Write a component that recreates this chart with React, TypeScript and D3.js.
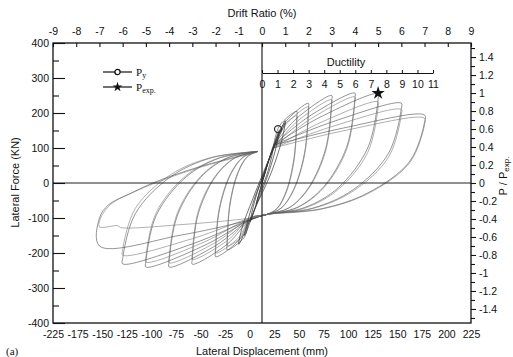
import React, { useEffect, useRef } from 'react';
import * as d3 from 'd3';

const W = 513;
const H = 357;

const driftTicks = [-9, -8, -7, -6, -5, -4, -3, -2, -1, 0, 1, 2, 3, 4, 5, 6, 7, 8, 9];
const forceTicks = [-400, -300, -200, -100, 0, 100, 200, 300, 400];
const forceMinor = [-350, -250, -150, -50, 50, 150, 250, 350];
const ratioTicks = [-1.4, -1.2, -1, -0.8, -0.6, -0.4, -0.2, 0, 0.2, 0.4, 0.6, 0.8, 1, 1.2, 1.4];
const ratioMinor = [-1.5, -1.3, -1.1, -0.9, -0.7, -0.5, -0.3, -0.1, 0.1, 0.3, 0.5, 0.7, 0.9, 1.1, 1.3, 1.5];
const ductilityTicks = [0, 1, 2, 3, 4, 5, 6, 7, 8, 9, 10, 11];
const dispLabels = ['-225', '-175', '-150', '-125', '-100', '-75', '-50', '-25', '0', '25', '50', '75', '100', '125', '150', '175', '200', '225'];

// [drift %, lateral force kN]
const yieldPoint = [0.69, 154];
const peakPoint = [5.0, 257];

// elastic cycles
const loop025 = [[0, 0], [0.25, 58], [0.12, 26], [-0.05, -12], [-0.25, -60], [-0.12, -28], [0.05, 12], [0.25, 56]];
const loop050 = [[0.05, 12], [0.5, 108], [0.42, 76], [0.2, 22], [-0.1, -30], [-0.5, -110], [-0.42, -80], [-0.2, -26], [0.1, 30], [0.5, 104]];
const loop075 = [[0.1, 28], [0.75, 150], [0.62, 106], [0.3, 32], [-0.2, -56], [-0.75, -150], [-0.62, -110], [-0.3, -40], [0.2, 46], [0.75, 146]];
const loop100 = [[0.2, 50], [1.0, 178], [0.85, 122], [0.4, 30], [-0.3, -72], [-1.0, -175], [-0.85, -126], [-0.4, -46], [0.25, 60], [1.0, 172]];

// inelastic cycles, two per drift level
const loop15a = [[0.5, 108], [0.75, 163], [1.5, 205], [1.5, 190], [1.38, 72], [1.04, -24], [0.64, -73], [0.2, -90], [-0.5, -105], [-0.75, -154], [-1.5, -191], [-1.5, -176], [-1.38, -63], [-1.04, 28], [-0.64, 74], [-0.2, 90]];
const loop15b = [[0.5, 100], [0.75, 152], [1.5, 192], [1.5, 177], [1.38, 64], [1.04, -28], [0.64, -74], [0.2, -90], [-0.5, -100], [-0.75, -146], [-1.5, -180], [-1.5, -165], [-1.38, -57], [-1.04, 30], [-0.64, 75], [-0.2, 90]];
const loop2a = [[0.5, 108], [1.0, 174], [2.0, 228], [2.0, 213], [1.83, 85], [1.36, -19], [0.82, -72], [0.2, -90], [-0.5, -105], [-1.0, -164], [-2.0, -211], [-2.0, -196], [-1.83, -75], [-1.36, 23], [-0.82, 73], [-0.2, 90]];
const loop2b = [[0.5, 100], [1.0, 165], [2.0, 218], [2.0, 203], [1.83, 79], [1.36, -21], [0.82, -72], [0.2, -90], [-0.5, -100], [-1.0, -156], [-2.0, -200], [-2.0, -185], [-1.83, -69], [-1.36, 26], [-0.82, 74], [-0.2, 90]];
const loop3a = [[0.5, 108], [1.5, 185], [3.0, 250], [3.0, 235], [2.74, 98], [2.0, -14], [1.16, -71], [0.2, -90], [-0.5, -105], [-1.5, -175], [-3.0, -232], [-3.0, -217], [-2.74, -87], [-2.0, 18], [-1.16, 72], [-0.2, 90]];
const loop3b = [[0.5, 100], [1.5, 175], [3.0, 238], [3.0, 223], [2.74, 91], [2.0, -17], [1.16, -71], [0.2, -90], [-0.5, -100], [-1.5, -165], [-3.0, -218], [-3.0, -203], [-2.74, -79], [-2.0, 21], [-1.16, 72], [-0.2, 90]];
const loop4a = [[0.5, 108], [2.0, 189], [4.0, 257], [4.0, 242], [3.64, 102], [2.64, -12], [1.5, -70], [0.2, -90], [-0.5, -105], [-2.0, -179], [-4.0, -240], [-4.0, -225], [-3.64, -92], [-2.64, 16], [-1.5, 71], [-0.2, 90]];
const loop4b = [[0.5, 100], [2.0, 179], [4.0, 246], [4.0, 231], [3.64, 95], [2.64, -15], [1.5, -71], [0.2, -90], [-0.5, -100], [-2.0, -170], [-4.0, -228], [-4.0, -213], [-3.64, -85], [-2.64, 19], [-1.5, 72], [-0.2, 90]];
const loop5a = [[0.5, 108], [2.5, 188], [5.0, 255], [5.0, 240], [4.55, 100], [3.29, -13], [1.84, -70], [0.2, -90], [-0.5, -105], [-2.5, -179], [-5.0, -240], [-5.0, -225], [-4.55, -92], [-3.29, 16], [-1.84, 71], [-0.2, 90]];
const loop5b = [[0.5, 100], [2.5, 172], [5.0, 232], [5.0, 217], [4.55, 87], [3.29, -18], [1.84, -72], [0.2, -90], [-0.5, -100], [-2.5, -169], [-5.0, -226], [-5.0, -211], [-4.55, -84], [-3.29, 20], [-1.84, 72], [-0.2, 90]];
const loop6a = [[0.5, 108], [3.0, 174], [6.0, 228], [6.0, 213], [5.45, 85], [3.93, -19], [2.18, -72], [0.2, -90], [-0.5, -105], [-3.0, -174], [-6.0, -231], [-6.0, -216], [-5.45, -87], [-3.93, 18], [-2.18, 72], [-0.2, 90]];
const loop6b = [[0.5, 100], [3.0, 161], [6.0, 210], [6.0, 195], [5.45, 74], [3.93, -23], [2.18, -73], [0.2, -90], [-0.5, -100], [-3.0, -159], [-6.0, -206], [-6.0, -191], [-5.45, -72], [-3.93, 24], [-2.18, 73], [-0.2, 90]];
const loop7a = [[0.5, 108], [3.5, 157], [7.0, 194], [7.0, 174], [6.36, 62], [4.57, -28], [2.53, -74], [0.2, -90], [-0.5, -105], [-3.5, -149], [-7.0, -180], [-7.0, -100], [-6.6, -62], [-5.6, -28], [-4.7, 0], [-3.0, 40], [-1.4, 70], [-0.2, 90]];
const loop7b = [[0.5, 100], [3.5, 149], [7.0, 185], [7.0, 167], [6.36, 58], [4.57, -30], [2.53, -75], [0.2, -90], [-0.5, -100], [-3.5, -119], [-6.1, -127], [-6.2, -122], [-7.0, -125], [-6.95, -100], [-6.5, -60], [-5.5, -25], [-4.6, 0], [-3.0, 38], [-1.4, 68], [-0.2, 88]];

const elasticLoops = [loop025, loop050, loop075, loop100];
const cycleLoops = [
  loop15a, loop15b, loop2a, loop2b, loop3a, loop3b,
  loop4a, loop4b, loop5a, loop5b, loop6a, loop6b, loop7a, loop7b,
];

const SANS = 'Liberation Sans, Arial, Helvetica, sans-serif';
const SERIF = 'Liberation Serif, Times New Roman, serif';

const App = () => {
  const svgRef = useRef(null);

  useEffect(() => {
    if (!svgRef.current) return;
    const svg = d3.select(svgRef.current);
    svg.selectAll('*').remove();

    const left = 53, right = 471, top = 43, bottom = 323;

    const x = d3.scaleLinear().domain([-9, 9]).range([left, right]);
    const y = d3.scaleLinear().domain([-400, 400]).range([bottom, top]);
    const r = d3.scaleLinear().domain([-1.556, 1.556]).range([bottom, top]);
    const duct = d3.scaleLinear().domain([0, 11]).range([x(0), x(0) + 171]);
    const disp = d3.scalePoint().domain(dispLabels).range([left, right]);

    // hysteresis loops
    const line = d3.line()
      .x(d => x(d[0]))
      .y(d => y(d[1]))
      .curve(d3.curveCatmullRom.alpha(0.5));

    svg.append('g')
      .selectAll('path')
      .data(cycleLoops)
      .join('path')
      .attr('d', line)
      .attr('fill', 'none')
      .attr('stroke', (d, i) => (i % 2 === 0 ? '#4d4d4d' : '#7a7a7a'))
      .attr('stroke-width', 0.6);

    svg.append('g')
      .selectAll('path')
      .data(elasticLoops)
      .join('path')
      .attr('d', line)
      .attr('fill', 'none')
      .attr('stroke', '#333')
      .attr('stroke-width', 0.7);

    // zero lines
    svg.append('line')
      .attr('x1', left).attr('x2', right)
      .attr('y1', y(0)).attr('y2', y(0))
      .attr('stroke', '#222').attr('stroke-width', 1.2);
    svg.append('line')
      .attr('x1', x(0)).attr('x2', x(0))
      .attr('y1', top).attr('y2', bottom)
      .attr('stroke', '#222').attr('stroke-width', 1.2);

    // frame
    svg.append('rect')
      .attr('x', left).attr('y', top)
      .attr('width', right - left).attr('height', bottom - top)
      .attr('fill', 'none')
      .attr('stroke', '#111')
      .attr('stroke-width', 1.3);

    const styleAxis = (g, size) => {
      g.select('.domain').remove();
      g.selectAll('line').attr('stroke', '#111').attr('stroke-width', 1.1);
      g.selectAll('text')
        .attr('fill', '#111')
        .style('font-family', SANS)
        .style('font-size', size + 'px');
    };

    // top axis: drift ratio
    svg.append('g')
      .attr('transform', `translate(0, ${top})`)
      .call(d3.axisTop(x).tickValues(driftTicks).tickSize(-4).tickPadding(8).tickFormat(d => String(d)))
      .call(g => styleAxis(g, 10.5));

    // left axis: force
    svg.append('g')
      .attr('transform', `translate(${left}, 0)`)
      .call(d3.axisLeft(y).tickValues(forceTicks).tickSize(-12).tickPadding(4).tickFormat(d => String(d)))
      .call(g => styleAxis(g, 10.5));
    svg.append('g')
      .attr('transform', `translate(${left}, 0)`)
      .call(d3.axisLeft(y).tickValues(forceMinor).tickSize(-6).tickFormat(() => ''))
      .call(g => styleAxis(g, 10.5));

    // right axis: P / Pexp
    svg.append('g')
      .attr('transform', `translate(${right}, 0)`)
      .call(d3.axisRight(r).tickValues(ratioTicks).tickSize(5).tickPadding(3).tickFormat(d => String(d)))
      .call(g => styleAxis(g, 10.5));
    svg.append('g')
      .attr('transform', `translate(${right}, 0)`)
      .call(d3.axisRight(r).tickValues(ratioMinor).tickSize(4).tickFormat(() => ''))
      .call(g => styleAxis(g, 10.5));

    // bottom axis: displacement labels
    svg.append('g')
      .attr('transform', `translate(0, ${bottom})`)
      .call(d3.axisBottom(disp).tickSize(0).tickPadding(7.5))
      .call(g => styleAxis(g, 10.5));

    // ductility axis
    const dg = svg.append('g')
      .attr('transform', `translate(0, ${y(0) - 110})`)
      .call(d3.axisBottom(duct).tickValues(ductilityTicks).tickSize(-3).tickSizeOuter(0).tickPadding(8));
    dg.select('.domain').attr('stroke', '#111').attr('stroke-width', 1.1);
    dg.selectAll('line').attr('stroke', '#111').attr('stroke-width', 1);
    dg.selectAll('text').attr('fill', '#111').style('font-family', SANS).style('font-size', '10.5px');

    // titles
    const title = (tx, ty, txt, size, rot = 0) =>
      svg.append('text')
        .attr('transform', `translate(${tx}, ${ty}) rotate(${rot})`)
        .attr('text-anchor', 'middle')
        .attr('fill', '#111')
        .style('font-family', SANS)
        .style('font-size', size + 'px')
        .text(txt);

    title(262, 16.5, 'Drift Ratio (%)', 11);
    title(262, 354.5, 'Lateral Displacement (mm)', 11);
    title(18.5, 182.5, 'Lateral Force (KN)', 11, -90);
    title(346, 66, 'Ductility', 11);

    const pTitle = svg.append('text')
      .attr('transform', `translate(507, 176) rotate(-90)`)
      .attr('text-anchor', 'middle')
      .attr('fill', '#111')
      .style('font-family', SANS)
      .style('font-size', '11px');
    pTitle.append('tspan').text('P / P');
    pTitle.append('tspan').attr('dy', 2).style('font-size', '8px').text('exp.');

    svg.append('text')
      .attr('x', 6).attr('y', 355)
      .attr('fill', '#111')
      .style('font-family', SERIF)
      .style('font-size', '11px')
      .text('(a)');

    // markers
    svg.append('circle')
      .attr('cx', x(yieldPoint[0])).attr('cy', y(yieldPoint[1]))
      .attr('r', 3.5)
      .attr('fill', 'none')
      .attr('stroke', '#333')
      .attr('stroke-width', 1.3);
    svg.append('path')
      .attr('transform', `translate(${x(peakPoint[0])}, ${y(peakPoint[1])})`)
      .attr('d', d3.symbol().type(d3.symbolStar).size(55)())
      .attr('fill', '#111');

    // legend
    const lg = svg.append('g').attr('transform', 'translate(103, 72)');
    lg.append('line').attr('x1', 0).attr('x2', 29).attr('y1', 0).attr('y2', 0)
      .attr('stroke', '#111').attr('stroke-width', 1.2);
    lg.append('circle').attr('cx', 14.5).attr('cy', 0).attr('r', 2.6)
      .attr('fill', '#fff').attr('stroke', '#111').attr('stroke-width', 1.3);
    lg.append('line').attr('x1', 0).attr('x2', 29).attr('y1', 15).attr('y2', 15)
      .attr('stroke', '#111').attr('stroke-width', 1.2);
    lg.append('path')
      .attr('transform', 'translate(14.5, 15)')
      .attr('d', d3.symbol().type(d3.symbolStar).size(30)())
      .attr('fill', '#111');

    const l1 = lg.append('text').attr('x', 33).attr('y', 4)
      .attr('fill', '#111').style('font-family', SERIF).style('font-size', '11px');
    l1.append('tspan').text('P');
    l1.append('tspan').attr('dy', 2).style('font-size', '8px').text('y');
    const l2 = lg.append('text').attr('x', 33).attr('y', 19)
      .attr('fill', '#111').style('font-family', SERIF).style('font-size', '11px');
    l2.append('tspan').text('P');
    l2.append('tspan').attr('dy', 2).style('font-size', '8px').text('exp.');
  }, []);

  return (
    <svg
      ref={svgRef}
      width={W}
      height={H}
      style={{ position: 'absolute', left: 0, top: 0, background: '#fff' }}
    />
  );
};

export default App;
